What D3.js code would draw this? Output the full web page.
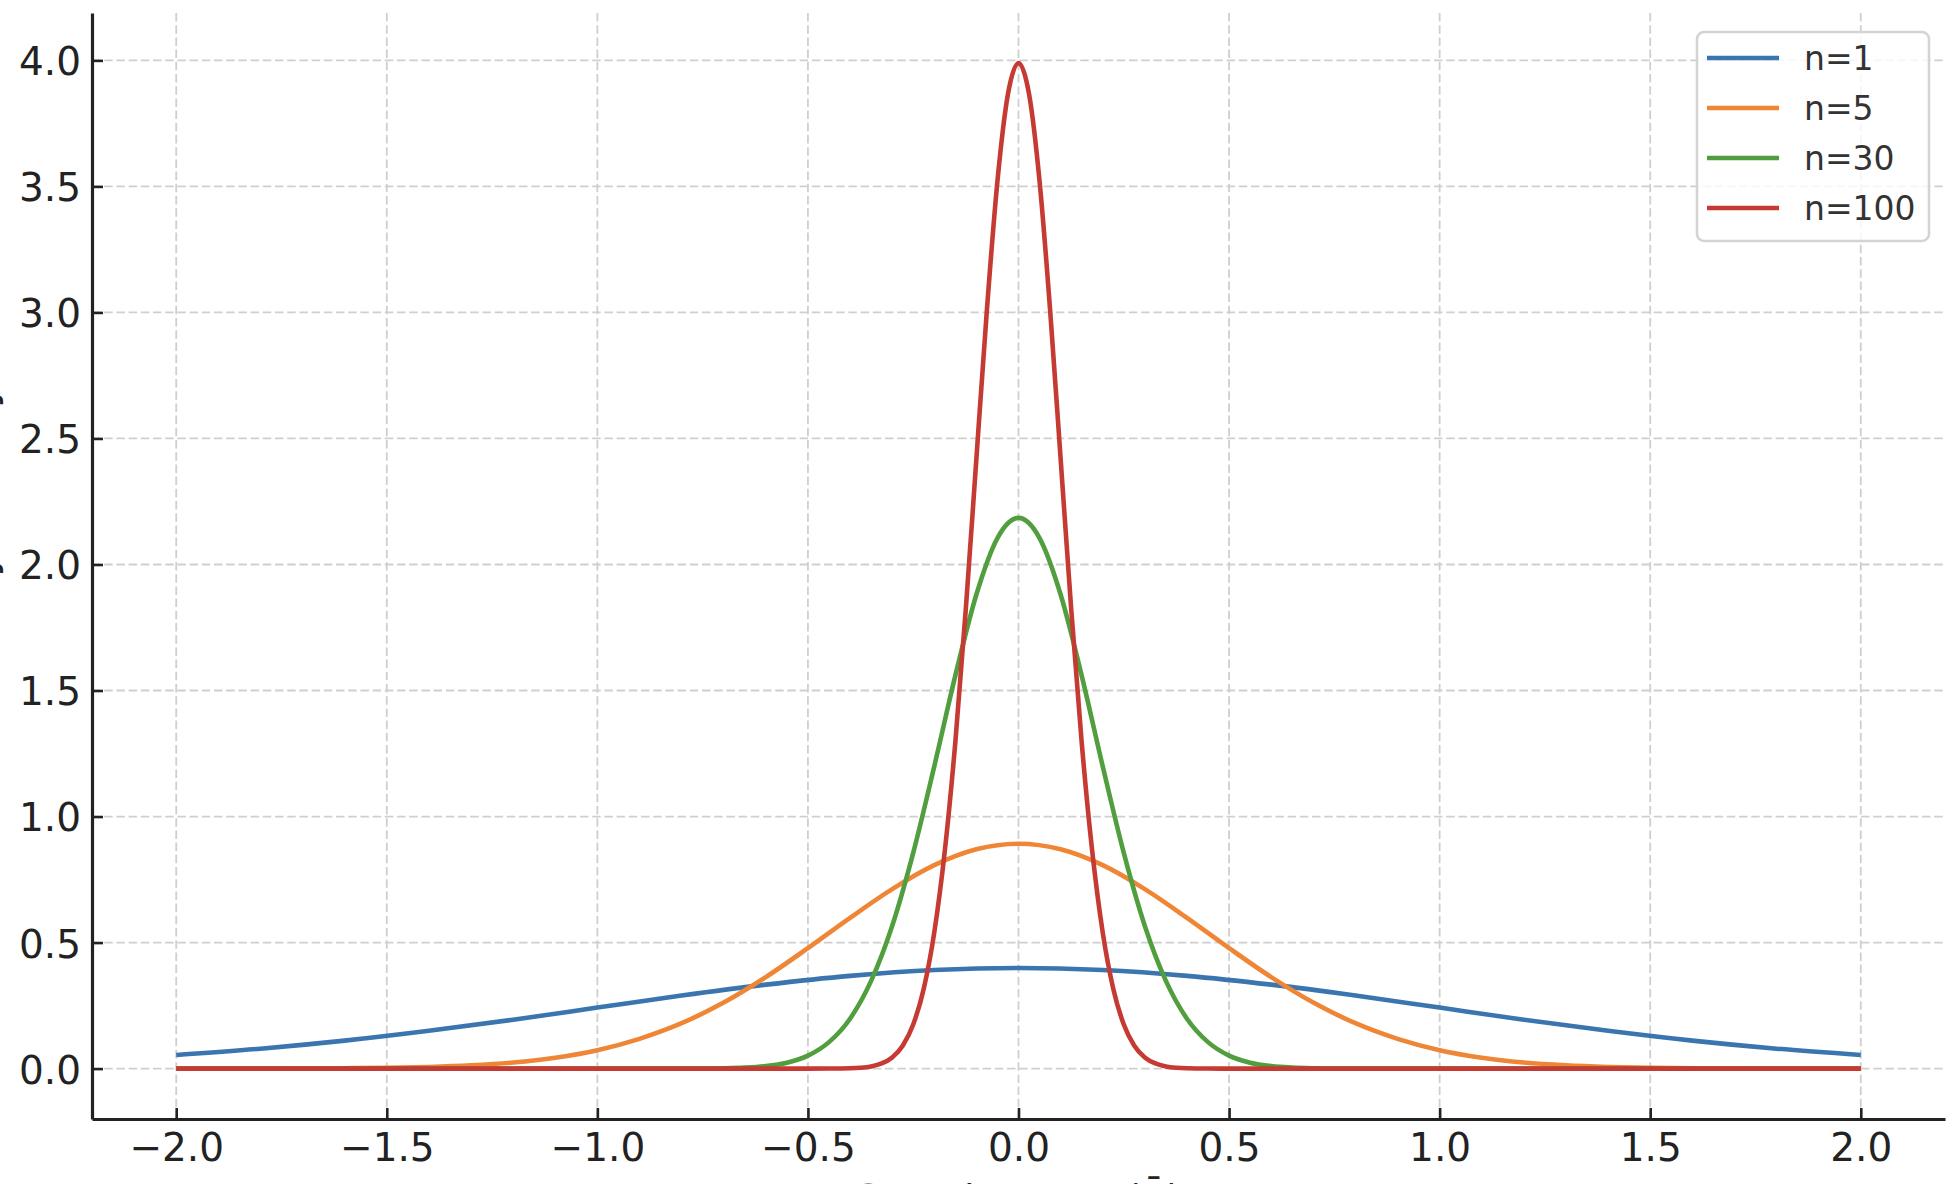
<!DOCTYPE html>
<html>
<head>
<meta charset="utf-8">
<script src="https://cdn.jsdelivr.net/npm/d3@7"></script>
<style>
  html, body { margin: 0; padding: 0; background: #ffffff; }
  svg { display: block; font-family: "DejaVu Sans", sans-serif; }
</style>
</head>
<body>
<svg id="chart" width="1952" height="1184"></svg>
<script>
// ---- data ----
const seriesNames = ["n=1", "n=5", "n=30", "n=100"];
const seriesColors = ["#3B75AF", "#EF8636", "#519E3E", "#C53A32"];

const xTicks = [-2.0, -1.5, -1.0, -0.5, 0.0, 0.5, 1.0, 1.5, 2.0];
const yTicks = [0.0, 0.5, 1.0, 1.5, 2.0, 2.5, 3.0, 3.5, 4.0];

const n1X = [-2.0,-1.8,-1.6,-1.4,-1.2,-1.0,-0.8,-0.6,-0.4,-0.2,0.0,0.2,0.4,0.6,0.8,1.0,1.2,1.4,1.6,1.8,2.0];
const n1Y = [0.054,0.079,0.111,0.150,0.194,0.242,0.290,0.333,0.368,0.391,0.399,0.391,0.368,0.333,0.290,0.242,0.194,0.150,0.111,0.079,0.054];

const n5X = [-2.0,-1.9,-1.8,-1.7,-1.6,-1.5,-1.4,-1.3,-1.2,-1.1,-1.0,-0.9,-0.8,-0.7,-0.6,-0.5,-0.4,-0.3,-0.2,-0.1,0.0,
             0.1,0.2,0.3,0.4,0.5,0.6,0.7,0.8,0.9,1.0,1.1,1.2,1.3,1.4,1.5,1.6,1.7,1.8,1.9,2.0];
const n5Y = [0.0000,0.0001,0.0003,0.0007,0.0015,0.0032,0.0066,0.013,0.024,0.043,0.073,0.118,0.180,0.262,0.363,0.478,0.598,0.712,0.807,0.870,0.892,
             0.870,0.807,0.712,0.598,0.478,0.363,0.262,0.180,0.118,0.073,0.043,0.024,0.013,0.0066,0.0032,0.0015,0.0007,0.0003,0.0001,0.0000];

const n30X = [-2.0,-1.5,-1.0,-0.8,-0.75,-0.7,-0.65,-0.6,-0.55,-0.5,-0.45,-0.4,-0.35,-0.3,-0.25,-0.2,-0.15,-0.1,-0.05,0.0,
              0.05,0.1,0.15,0.2,0.25,0.3,0.35,0.4,0.45,0.5,0.55,0.6,0.65,0.7,0.75,0.8,1.0,1.5,2.0];
const n30Y = [0,0,0,0.0001,0.0005,0.0014,0.0039,0.0099,0.0234,0.0514,0.105,0.198,0.348,0.566,0.856,1.199,1.559,1.881,2.105,2.185,
              2.105,1.881,1.559,1.199,0.856,0.566,0.348,0.198,0.105,0.0514,0.0234,0.0099,0.0039,0.0014,0.0005,0.0001,0,0,0];

const n100X = [-2.0,-1.5,-1.0,-0.5,-0.45,-0.4,-0.375,-0.35,-0.325,-0.3,-0.275,-0.25,-0.225,-0.2,-0.175,-0.15,-0.125,-0.1,-0.075,-0.05,-0.025,0.0,
               0.025,0.05,0.075,0.1,0.125,0.15,0.175,0.2,0.225,0.25,0.275,0.3,0.325,0.35,0.375,0.4,0.45,0.5,1.0,1.5,2.0];
const n100Y = [0,0,0,0,0.0002,0.0013,0.0035,0.0087,0.0203,0.0443,0.0909,0.175,0.317,0.540,0.863,1.295,1.826,2.420,3.011,3.521,3.867,3.989,
               3.867,3.521,3.011,2.420,1.826,1.295,0.863,0.540,0.317,0.175,0.0909,0.0443,0.0203,0.0087,0.0035,0.0013,0.0002,0,0,0,0];

const xLabel = "Sample Mean (X\u0304)";
const yLabel = "Probability Density";

// ---- chart ----
const svg = d3.select("#chart");
const plotL = 92, plotR = 1945, plotT = 13, plotB = 1119;

const x = d3.scaleLinear().domain([-2.2, 2.2]).range([plotL, plotR]);
const y = d3.scaleLinear().domain([-0.2, 4.188]).range([plotB, plotT]);

const seriesData = [
  n1X.map((v, i) => [v, n1Y[i]]),
  n5X.map((v, i) => [v, n5Y[i]]),
  n30X.map((v, i) => [v, n30Y[i]]),
  n100X.map((v, i) => [v, n100Y[i]])
];

// grid
const grid = svg.append("g").attr("class", "grid");
grid.selectAll("line.vx").data(xTicks).join("line")
  .attr("x1", d => x(d)).attr("x2", d => x(d))
  .attr("y1", plotT).attr("y2", plotB)
  .attr("stroke", "#cfcfcf").attr("stroke-width", 1.8)
  .attr("stroke-dasharray", "8.5,3.7");
grid.selectAll("line.hy").data(yTicks).join("line")
  .attr("x1", plotL).attr("x2", plotR)
  .attr("y1", d => y(d)).attr("y2", d => y(d))
  .attr("stroke", "#cfcfcf").attr("stroke-width", 1.8)
  .attr("stroke-dasharray", "8.5,3.7");

// curves
const line = d3.line().x(d => x(d[0])).y(d => y(d[1])).curve(d3.curveMonotoneX);
svg.append("g").selectAll("path").data(seriesData).join("path")
  .attr("d", line)
  .attr("fill", "none")
  .attr("stroke", (d, i) => seriesColors[i])
  .attr("stroke-width", 4.6)
  .attr("stroke-linejoin", "round")
  .attr("stroke-linecap", "butt");

// axes
const fmt = d3.format(".1f");
const xAxis = svg.append("g").attr("transform", `translate(0,${plotB})`)
  .call(d3.axisBottom(x).tickValues(xTicks).tickFormat(fmt).tickSizeInner(-11).tickSizeOuter(0).tickPadding(14));
const yAxis = svg.append("g").attr("transform", `translate(${plotL},0)`)
  .call(d3.axisLeft(y).tickValues(yTicks).tickFormat(fmt).tickSizeInner(-11).tickSizeOuter(0).tickPadding(11));

[xAxis, yAxis].forEach(ax => {
  ax.select(".domain").attr("stroke", "#222").attr("stroke-width", 3.2);
  ax.selectAll(".tick line").attr("stroke", "#222").attr("stroke-width", 2.6);
  ax.selectAll(".tick text").attr("fill", "#222").attr("font-size", 39)
    .attr("font-family", "DejaVu Sans");
});
yAxis.selectAll(".tick text").attr("dy", "0.37em");

// axis labels (mostly outside the picture, as in the reference)
svg.append("text")
  .attr("x", (plotL + plotR) / 2).attr("y", 1211)
  .attr("text-anchor", "middle").attr("font-size", 38).attr("fill", "#222")
  .text(xLabel);
svg.append("text")
  .attr("transform", `translate(-6,576) rotate(-90)`)
  .attr("text-anchor", "middle").attr("font-size", 41).attr("fill", "#222")
  .text(yLabel);

// legend
const lg = svg.append("g");
lg.append("rect")
  .attr("x", 1697).attr("y", 32).attr("width", 232).attr("height", 209)
  .attr("rx", 7).attr("ry", 7)
  .attr("fill", "#ffffff").attr("fill-opacity", 0.8)
  .attr("stroke", "#d4d4d4").attr("stroke-width", 2.6);
const items = lg.selectAll("g.item").data(seriesNames).join("g")
  .attr("transform", (d, i) => `translate(0,${58 + i * 50})`);
items.append("line")
  .attr("x1", 1707).attr("x2", 1779).attr("y1", 0).attr("y2", 0)
  .attr("stroke", (d, i) => seriesColors[i]).attr("stroke-width", 4.6);
items.append("text")
  .attr("x", 1804).attr("y", 12)
  .attr("font-size", 33).attr("fill", "#333")
  .text(d => d);
</script>
</body>
</html>
